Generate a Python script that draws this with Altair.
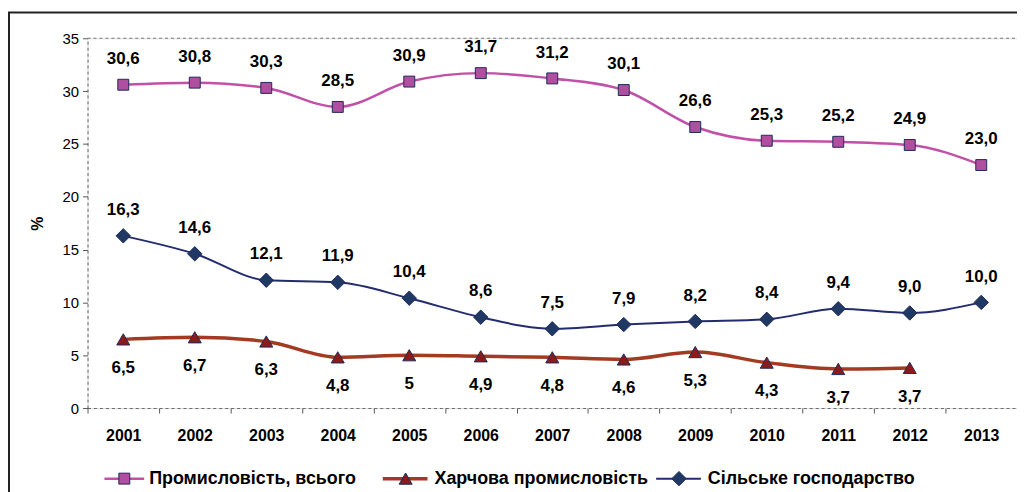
import altair as alt
import pandas as pd

years = ["2001", "2002", "2003", "2004", "2005", "2006", "2007", "2008", "2009", "2010", "2011", "2012", "2013"]
industry = [30.6, 30.8, 30.3, 28.5, 30.9, 31.7, 31.2, 30.1, 26.6, 25.3, 25.2, 24.9, 23.0]
industry_lbl = ["30,6", "30,8", "30,3", "28,5", "30,9", "31,7", "31,2", "30,1", "26,6", "25,3", "25,2", "24,9", "23,0"]
food = [6.5, 6.7, 6.3, 4.8, 5.0, 4.9, 4.8, 4.6, 5.3, 4.3, 3.7, 3.8]
food_lbl = ["6,5", "6,7", "6,3", "4,8", "5", "4,9", "4,8", "4,6", "5,3", "4,3", "3,7", "3,7"]
agri = [16.3, 14.6, 12.1, 11.9, 10.4, 8.6, 7.5, 7.9, 8.2, 8.4, 9.4, 9.0, 10.0]
agri_lbl = ["16,3", "14,6", "12,1", "11,9", "10,4", "8,6", "7,5", "7,9", "8,2", "8,4", "9,4", "9,0", "10,0"]

series_names = ["Промисловість, всього", "Харчова промисловість", "Сільське господарство"]

FONT = "Liberation Sans"
W, H = 935, 372

rows = []
for name, vals, lbls in zip(series_names, [industry, food, agri], [industry_lbl, food_lbl, agri_lbl]):
    for y, v, l in zip(years, vals, lbls):
        rows.append({"series": name, "year": y, "value": v, "label": l})
df = pd.DataFrame(rows)

xenc = alt.X("year:N", sort=years, scale=alt.Scale(domain=years, paddingInner=0, paddingOuter=0),
             axis=alt.Axis(title=None, labelAngle=0, labelFont=FONT, labelFontSize=16, labelFontWeight="bold",
                           labelColor="black", tickBand="extent", tickSize=5, tickColor="#555",
                           domainColor="#666", domainDash=[3, 3], labelPadding=15))
yenc = alt.Y("value:Q", scale=alt.Scale(domain=[0, 35], nice=False, zero=True),
             axis=alt.Axis(values=[0, 5, 10, 15, 20, 25, 30, 35], grid=False, title="%",
                           titleFont=FONT, titleFontSize=16, titleFontWeight="bold", titleColor="black",
                           titleX=-50, titleY=H / 2, titleAngle=270, titleAlign="center", titleBaseline="middle",
                           labelFont=FONT, labelFontSize=15, labelColor="black", tickSize=5, tickColor="#555",
                           domainColor="#666", domainDash=[3, 3], labelPadding=4))

styles = {
    series_names[0]: dict(line="#C050A8", fill="#B04EA0", shape="square", size=121, sw=2.5, dy=-26),
    series_names[1]: dict(line="#A33A22", fill="#8B1A1A", shape="triangle-up", size=170, sw=3.5, dy=29),
    series_names[2]: dict(line="#232C70", fill="#1F3864", shape="diamond", size=210, sw=2, dy=-26),
}

base = alt.Chart(df)
layers = []

# top dotted border of plot area
layers.append(alt.Chart(pd.DataFrame({"v": [35]})).mark_rule(color="#777", strokeDash=[3, 3], strokeWidth=1).encode(
    y=alt.Y("v:Q", scale=alt.Scale(domain=[0, 35], nice=False)), x=alt.value(0), x2=alt.value(W + 200)))

for name in series_names:
    s = styles[name]
    sub = base.transform_filter(alt.datum.series == name)
    layers.append(sub.mark_line(color=s["line"], strokeWidth=s["sw"], interpolate="monotone").encode(x=xenc, y=yenc))
    layers.append(sub.mark_point(shape=s["shape"], size=s["size"], filled=True, fill=s["fill"], stroke="#1F2A5A",
                                 strokeWidth=1, opacity=1).encode(x=xenc, y=yenc))
    layers.append(sub.mark_text(font=FONT, fontSize=17, fontWeight="bold", color="black", dy=s["dy"],
                                baseline="middle").encode(x=xenc, y=yenc, text="label:N"))

# legend
leg_pos = [(17, 57, 37, 62), (297, 342, 320, 349), (572, 617, 595, 624)]
LY = 443
for name, (x1, x2, xm, xt) in zip(series_names, leg_pos):
    s = styles[name]
    ldf = pd.DataFrame({"series": [name]})
    lc = alt.Chart(ldf)
    layers.append(lc.mark_rule(color=s["line"], strokeWidth=s["sw"]).encode(
        x=alt.value(x1), x2=alt.value(x2), y=alt.value(LY)))
    layers.append(lc.mark_point(shape=s["shape"], size=s["size"], filled=True, fill=s["fill"], stroke="#1F2A5A",
                                strokeWidth=1, opacity=1).encode(x=alt.value(xm), y=alt.value(LY)))
    layers.append(lc.mark_text(font=FONT, fontSize=18, fontWeight="bold", color="black", align="left",
                               baseline="middle").encode(x=alt.value(xt), y=alt.value(LY), text="series:N"))

# outer frame
layers.append(alt.Chart(pd.DataFrame({"a": [0]})).mark_rect(filled=False, stroke="#222", strokeWidth=2).encode(
    x=alt.value(-79), x2=alt.value(W + 300), y=alt.value(-26), y2=alt.value(H + 300)))

chart = alt.layer(*layers).properties(
    width=W, height=H,
    autosize=alt.AutoSizeParams(type="none"),
    padding={"left": 80, "top": 29, "right": 0, "bottom": 83},
).configure_view(stroke=None).configure(background="white")

chart.save("out.html", embed_options={"renderer": "svg", "actions": False})
